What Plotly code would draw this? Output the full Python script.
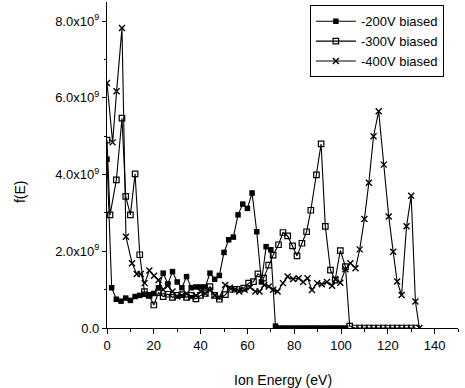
import plotly.graph_objects as go

# -200V biased
E200 = [0, 2, 4, 6, 8, 10, 12, 14, 16, 18, 20, 22, 24, 26, 28, 30, 32, 34, 36, 38,
        40, 42, 44, 46, 48, 50, 52, 54, 56, 58, 60, 62, 64, 66, 68, 70, 72,
        74, 76, 78, 80, 82, 84, 86, 88, 90, 92, 94, 96, 98, 100, 102]
f200 = [4.4, 1.05, 0.75, 0.7, 0.78, 0.72, 0.82, 0.85, 0.88, 0.85, 0.9, 1.05, 1.43, 1.15, 1.47, 1.2, 1.05, 1.34, 1.05, 1.07,
        1.07, 1.07, 1.43, 1.27, 1.37, 1.97, 2.3, 2.37, 2.95, 3.23, 3.12, 3.52, 2.51, 1.2, 2.12, 2.04, 0.05,
        0.0, 0.0, 0.0, 0.0, 0.0, 0.0, 0.0, 0.0, 0.0, 0.0, 0.0, 0.0, 0.0, 0.0, 0.0]

# -300V biased
E300 = [0, 1.3, 4, 6.4, 8, 10, 12, 14, 16, 18, 20, 22, 24, 26, 28, 30, 32, 34, 36, 38,
        40, 42, 44, 46, 48, 50.6, 52.7, 55.5, 58.4, 60.5, 62.6, 64.5, 66.9, 69.1, 71, 73.3,
        75.2, 77.2, 79.3, 81.2, 83.3, 85.3, 87.1, 89.5, 91.5, 93.3, 95.5, 97.5, 99.7, 101.9, 103.7,
        106, 108, 110, 112, 114, 116, 118, 120, 122, 124, 126, 128, 130, 132]
f300 = [4.9, 2.95, 3.86, 5.47, 3.43, 2.95, 4.02, 1.91, 0.95, 0.85, 0.6, 0.92, 0.82, 0.88, 0.8, 0.85, 0.87, 0.8, 0.85, 0.76,
        0.85, 0.9, 1.08, 0.85, 0.75, 0.87, 1.01, 1.01, 1.04, 1.17, 1.21, 1.41, 1.3, 1.64, 1.9, 2.17,
        2.49, 2.4, 2.14, 1.88, 2.21, 2.51, 3.07, 3.99, 4.8, 2.65, 1.51, 1.25, 2.02, 1.6, 0.05,
        0.0, 0.0, 0.0, 0.0, 0.0, 0.0, 0.0, 0.0, 0.0, 0.0, 0.0, 0.0, 0.0, 0.0]

# -400V biased
E400 = [0, 2.4, 4.1, 6.4, 8.1, 10.7, 12.7, 14.4, 16.1, 18.1, 20.1, 22, 24, 26, 28, 30, 32, 34, 36, 38,
        40, 42, 44, 46, 48, 50.5, 52.5, 54.5, 56.5, 58.8, 61.2, 63.4, 65.2, 67.2, 69.1, 71, 72.9,
        75.2, 77.2, 79.5, 81.9, 83.8, 85.7, 87.6, 89.8, 91.8, 94, 96.2, 97.6, 99.7, 101.9, 104,
        106.2, 108, 110, 111.9, 113.9, 116.1, 118.3, 120.4, 122.3, 124, 125.9, 128, 130, 131.8, 133.5]
f400 = [6.39, 4.84, 6.17, 7.82, 2.38, 1.69, 1.41, 1.41, 1.17, 1.5, 1.36, 1.25, 1.0, 1.1, 0.95, 0.82, 0.85, 0.9, 0.8, 0.85,
        0.95, 0.9, 0.99, 0.85, 0.8, 1.12, 1.05, 1.0, 0.95, 1.0, 1.06, 0.95, 0.95, 1.12, 1.08, 1.0, 0.95,
        1.17, 1.34, 1.28, 1.3, 1.2, 1.3, 0.99, 1.17, 1.14, 1.2, 1.1, 1.27, 1.18, 1.53, 1.69,
        1.56, 2.05, 2.84, 3.79, 5.0, 5.65, 4.26, 2.91, 1.99, 1.21, 0.86, 2.65, 3.45, 0.69, 0.0]

y_tickvals = [0, 2, 4, 6, 8]
y_ticktext = ["0.0", "2.0x10<sup>9</sup>", "4.0x10<sup>9</sup>", "6.0x10<sup>9</sup>", "8.0x10<sup>9</sup>"]
x_tickvals = [0, 20, 40, 60, 80, 100, 120, 140]

FONT = "Liberation Sans, Arial, sans-serif"

fig = go.Figure()
fig.add_trace(go.Scatter(x=E200, y=f200, mode="lines+markers", name="-200V biased",
                         line=dict(color="black", width=1.1),
                         marker=dict(symbol="square", size=5.5, color="black")))
fig.add_trace(go.Scatter(x=E300, y=f300, mode="lines+markers", name="-300V biased",
                         line=dict(color="black", width=1.1),
                         marker=dict(symbol="square-open", size=5.5, color="black", line=dict(width=1.2))))
fig.add_trace(go.Scatter(x=E400, y=f400, mode="lines+markers", name="-400V biased",
                         line=dict(color="black", width=1.1),
                         marker=dict(symbol="x-thin", size=6, color="black", line=dict(width=1.4, color="black"))))

fig.update_layout(
    width=465, height=388,
    margin=dict(l=107, r=7, t=2, b=60),
    paper_bgcolor="white", plot_bgcolor="white",
    font=dict(family=FONT, size=13, color="black"),
    showlegend=True,
    legend=dict(x=0.578, y=0.99, xanchor="left", yanchor="top",
                bordercolor="black", borderwidth=1, bgcolor="white",
                font=dict(family=FONT, size=13), tracegroupgap=0, itemwidth=40),
    xaxis=dict(range=[0, 150], tickvals=x_tickvals, showgrid=False, zeroline=False,
               showline=True, linecolor="black", linewidth=1.3,
               ticks="outside", ticklen=5, tickcolor="black",
               minor=dict(dtick=10, tick0=0, ticks="outside", ticklen=3, tickcolor="black"),
               tickfont=dict(size=13)),
    yaxis=dict(range=[0, 8.5], tickvals=y_tickvals, ticktext=y_ticktext, showgrid=False, zeroline=False,
               showline=True, linecolor="black", linewidth=1.3,
               ticks="outside", ticklen=4, tickcolor="black",
               minor=dict(dtick=1, tick0=0, ticks="outside", ticklen=2, tickcolor="black"),
               tickfont=dict(size=13)),
    annotations=[
        dict(text="f(E)", xref="paper", yref="paper", x=-0.248, y=0.42, textangle=-90,
             showarrow=False, font=dict(size=14, family=FONT), xanchor="center", yanchor="middle"),
        dict(text="Ion Energy (eV)", xref="paper", yref="paper", x=0.5, y=-0.13,
             showarrow=False, font=dict(size=14, family=FONT), xanchor="center", yanchor="top"),
    ],
)

fig.write_html("out.html")
